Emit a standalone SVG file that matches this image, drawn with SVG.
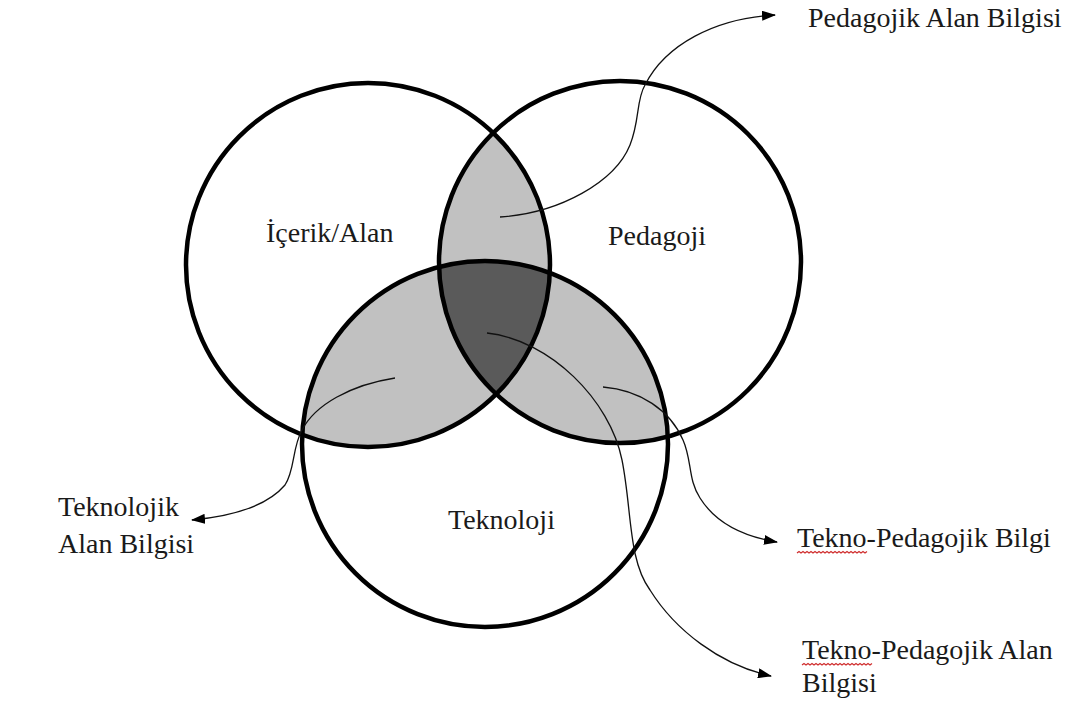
<svg xmlns="http://www.w3.org/2000/svg" width="1069" height="708" viewBox="0 0 1069 708">
<style>
.ring{fill:none;stroke:#000;stroke-width:4.5}
.lens{fill:#c1c1c1}
.core{fill:#5a5a5a}
.lbl{font-family:"Liberation Serif","Times New Roman",serif;font-size:28px;fill:#1a1a1a}
.conn{fill:none;stroke:#111;stroke-width:1.3;marker-end:url(#arr)}
.squig{fill:none;stroke:#d03030;stroke-width:1.2}
</style>
<defs>
<marker id="arr" viewBox="0 0 14 10" refX="13" refY="5" markerWidth="14" markerHeight="10" markerUnits="userSpaceOnUse" orient="auto">
<path d="M0,0 L14,5 L0,10 Z" fill="#000"/>
</marker>
<clipPath id="cL"><circle cx="368" cy="265" r="182"/></clipPath>
<clipPath id="cR"><circle cx="620" cy="262" r="181"/></clipPath>
<clipPath id="cT"><circle cx="485" cy="444" r="183"/></clipPath>
</defs>
<rect width="1069" height="708" fill="#fff"/>
<g id="fills">
<circle class="lens" cx="368" cy="265" r="182" clip-path="url(#cR)"/>
<circle class="lens" cx="368" cy="265" r="182" clip-path="url(#cT)"/>
<circle class="lens" cx="620" cy="262" r="181" clip-path="url(#cT)"/>
<g clip-path="url(#cT)"><circle class="core" cx="368" cy="265" r="182" clip-path="url(#cR)"/></g>
</g>
<g id="node-icerik">
<circle class="ring" cx="368" cy="265" r="182"/>
<text class="lbl" x="266" y="242">İçerik/Alan</text>
</g>
<g id="node-pedagoji">
<circle class="ring" cx="620" cy="262" r="181"/>
<text class="lbl" x="608" y="245">Pedagoji</text>
</g>
<g id="node-teknoloji">
<circle class="ring" cx="485" cy="444" r="183"/>
<text class="lbl" x="448" y="529">Teknoloji</text>
</g>
<g id="connectors">
<path class="conn" d="M500,217 C560,213 615,182 630,145 C640,120 636,100 645,85 C665,45 715,18 775,15"/>
<path class="conn" d="M395,378 C350,385 315,405 302,430 C292,448 295,470 285,485 C268,505 235,516 192,520"/>
<path class="conn" d="M603,387 C640,390 670,410 683,440 C692,460 688,480 700,498 C715,522 740,536 777,542"/>
<path class="conn" d="M487,333 C550,340 610,400 622,460 C632,510 628,560 650,590 C675,630 720,665 771,676"/>
</g>
<g id="label-pab">
<text class="lbl" x="808" y="27">Pedagojik Alan Bilgisi</text>
</g>
<g id="label-tab">
<text class="lbl" x="58" y="516">Teknolojik</text>
<text class="lbl" x="58" y="553">Alan Bilgisi</text>
</g>
<g id="label-tpb">
<text class="lbl" x="797" y="547">Tekno-Pedagojik Bilgi</text>
<path class="squig" d="M797,553 l2,-1.5 l2,1.5 l2,-1.5 l2,1.5 l2,-1.5 l2,1.5 l2,-1.5 l2,1.5 l2,-1.5 l2,1.5 l2,-1.5 l2,1.5 l2,-1.5 l2,1.5 l2,-1.5 l2,1.5 l2,-1.5 l2,1.5 l2,-1.5 l2,1.5 l2,-1.5 l2,1.5 l2,-1.5 l2,1.5 l2,-1.5 l2,1.5 l2,-1.5 l2,1.5 l2,-1.5 l2,1.5 l2,-1.5 l2,1.5 l2,-1.5 l2,1.5 l2,-1.5"/>
</g>
<g id="label-tpab">
<text class="lbl" x="802" y="659">Tekno-Pedagojik Alan</text>
<text class="lbl" x="802" y="692">Bilgisi</text>
<path class="squig" d="M802,665 l2,-1.5 l2,1.5 l2,-1.5 l2,1.5 l2,-1.5 l2,1.5 l2,-1.5 l2,1.5 l2,-1.5 l2,1.5 l2,-1.5 l2,1.5 l2,-1.5 l2,1.5 l2,-1.5 l2,1.5 l2,-1.5 l2,1.5 l2,-1.5 l2,1.5 l2,-1.5 l2,1.5 l2,-1.5 l2,1.5 l2,-1.5 l2,1.5 l2,-1.5 l2,1.5 l2,-1.5 l2,1.5 l2,-1.5 l2,1.5 l2,-1.5 l2,1.5 l2,-1.5"/>
</g>
</svg>
